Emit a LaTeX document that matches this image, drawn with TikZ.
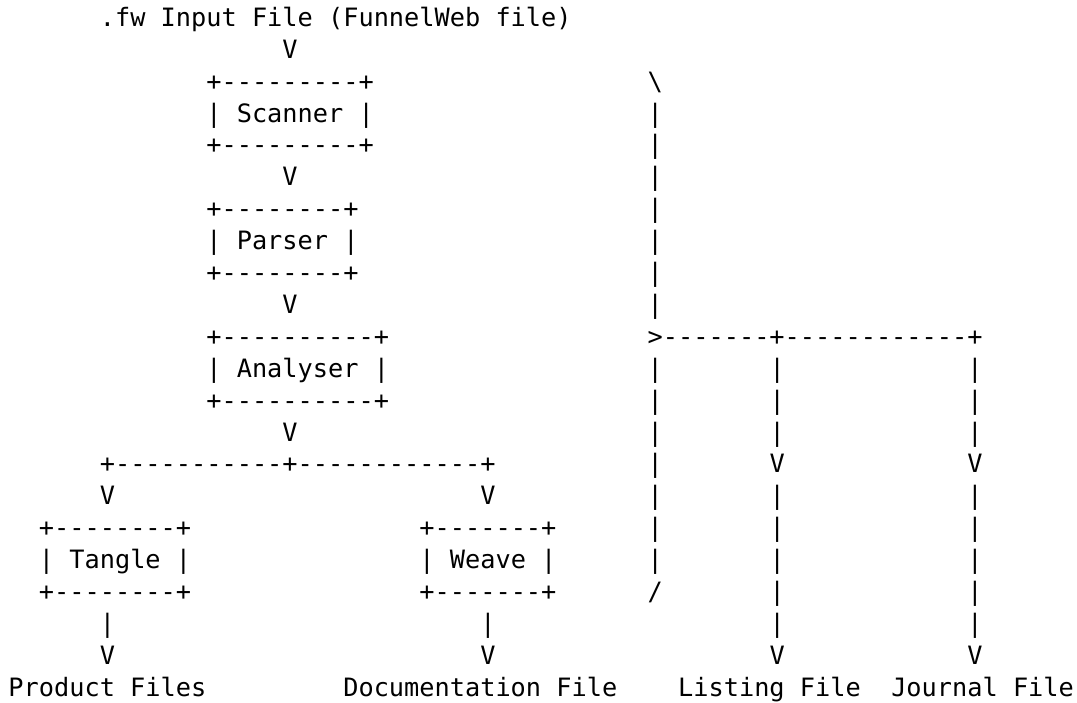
\documentclass[tikz,border=0pt]{standalone}
\usepackage{fontspec}
\setmonofont{DejaVu Sans Mono}
\newcommand\asc[4]{\node[asc] (#1) at ({8.5+15.22*#2},{26.3+31.9*(#3-1)}) {#4};}
\begin{document}
\begin{tikzpicture}[x=1pt,y=-1pt,
  asc/.style={anchor=base west,inner sep=0pt,outer sep=0pt,
    font=\ttfamily\fontsize{25.28}{31.9}\selectfont,text=black}]
\useasboundingbox[fill=white] (0,0) rectangle (1077,702);
% line 1-2
\asc{t1}{6}{1}{.fw Input File (FunnelWeb file)}
\asc{v2}{18}{2}{V}
% scanner
\asc{s3}{13}{3}{+---------+}
\asc{s4}{13}{4}{| Scanner |}
\asc{s5}{13}{5}{+---------+}
\asc{v6}{18}{6}{V}
% parser
\asc{p7}{13}{7}{+--------+}
\asc{p8}{13}{8}{| Parser |}
\asc{p9}{13}{9}{+--------+}
\asc{v10}{18}{10}{V}
% analyser
\asc{a11}{13}{11}{+----------+}
\asc{a12}{13}{12}{| Analyser |}
\asc{a13}{13}{13}{+----------+}
\asc{v14}{18}{14}{V}
% branch
\asc{b15}{6}{15}{+-----------+------------+}
\asc{v16a}{6}{16}{V}
\asc{v16b}{31}{16}{V}
% tangle / weave
\asc{tg17}{2}{17}{+--------+}
\asc{tg18}{2}{18}{| Tangle |}
\asc{tg19}{2}{19}{+--------+}
\asc{w17}{27}{17}{+-------+}
\asc{w18}{27}{18}{| Weave |}
\asc{w19}{27}{19}{+-------+}
\asc{v20a}{6}{20}{|}
\asc{v20b}{31}{20}{|}
\asc{v21a}{6}{21}{V}
\asc{v21b}{31}{21}{V}
% right-hand column
\asc{r3}{42}{3}{\textbackslash}
\foreach \k in {4,...,10}{\asc{r\k}{42}{\k}{|}}
\asc{r11}{42}{11}{>-------+------------+}
\foreach \k in {12,...,18}{\asc{r\k}{42}{\k}{|}}
\asc{r19}{42}{19}{/}
% listing column
\foreach \k in {12,13,14,16,17,18,19,20}{\asc{l\k}{50}{\k}{|}}
\asc{l15}{50}{15}{V}
\asc{l21}{50}{21}{V}
% journal column
\foreach \k in {12,13,14,16,17,18,19,20}{\asc{j\k}{63}{\k}{|}}
\asc{j15}{63}{15}{V}
\asc{j21}{63}{21}{V}
% outputs
\asc{o22a}{0}{22}{Product Files}
\asc{o22b}{22}{22}{Documentation File}
\asc{o22c}{44}{22}{Listing File}
\asc{o22d}{58}{22}{Journal File}
\end{tikzpicture}
\end{document}
